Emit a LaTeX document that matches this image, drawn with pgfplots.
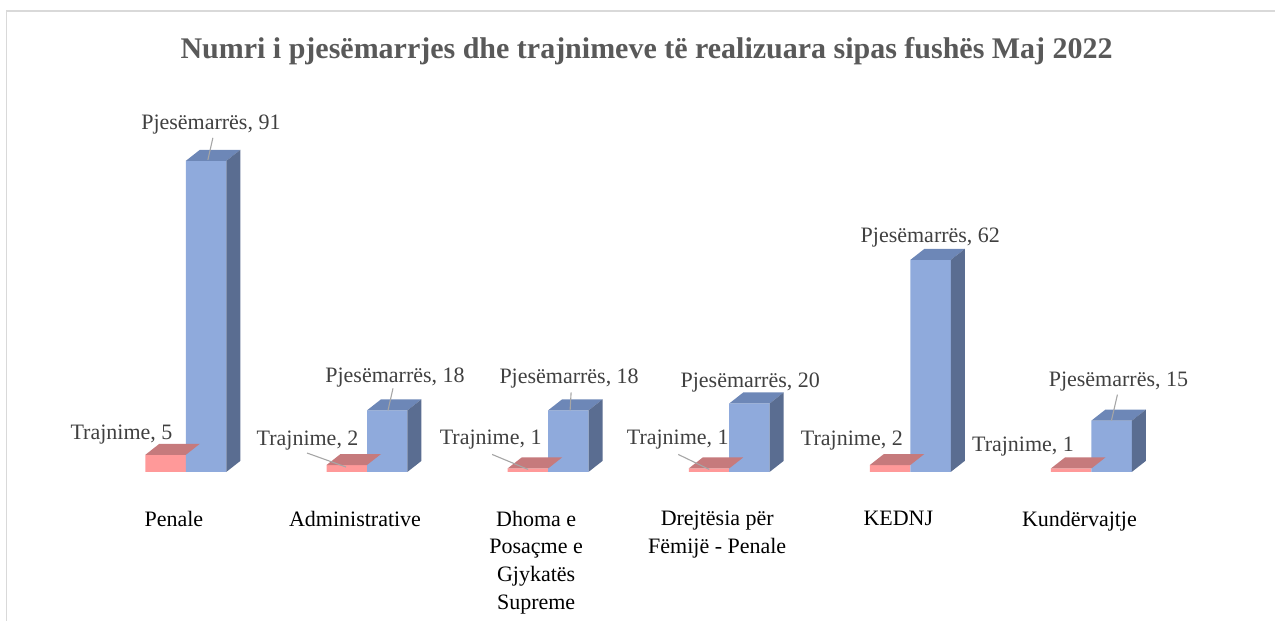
\documentclass[border=0pt]{standalone}
\usepackage{pgfplots}
\pgfplotsset{compat=1.18}
\usepackage{pgfplotstable}
\usepackage{fontspec}
\setmainfont{Liberation Serif}

\definecolor{bfront}{HTML}{8FAADC}
\definecolor{btop}{HTML}{6D87B7}
\definecolor{bside}{HTML}{5A6D91}
\definecolor{pfront}{HTML}{FF9999}
\definecolor{ptop}{HTML}{C67A7C}
\definecolor{leadgray}{HTML}{A6A6A6}
\definecolor{lbl}{HTML}{404040}
\definecolor{ttl}{HTML}{595959}
\definecolor{framegray}{HTML}{D9D9D9}

% geometry of the fake 3-D bars (1pt = 1px of the reference)
\def\yu{3.42}
\def\cubW{40.5pt}
\def\cubDX{14pt}
\def\cubDY{11pt}

% top + side face (+ leader line) of a blue bar, origin = front top-left corner
\pgfdeclareplotmark{cubeB}{%
  \pgfmathsetlengthmacro\cubH{\rawv*\yu pt}%
  \pgfsetfillcolor{btop}%
  \pgfpathmoveto{\pgfpoint{0pt}{0pt}}%
  \pgfpathlineto{\pgfpoint{\cubW}{0pt}}%
  \pgfpathlineto{\pgfpoint{\cubW+\cubDX}{\cubDY}}%
  \pgfpathlineto{\pgfpoint{\cubDX}{\cubDY}}%
  \pgfpathclose\pgfusepath{fill}%
  \pgfsetfillcolor{bside}%
  \pgfpathmoveto{\pgfpoint{\cubW}{0pt}}%
  \pgfpathlineto{\pgfpoint{\cubW+\cubDX}{\cubDY}}%
  \pgfpathlineto{\pgfpoint{\cubW+\cubDX}{\cubDY-\cubH}}%
  \pgfpathlineto{\pgfpoint{\cubW}{-\cubH}}%
  \pgfpathclose\pgfusepath{fill}%
  \pgfsetstrokecolor{leadgray}\pgfsetlinewidth{1.1pt}%
  \pgfpathmoveto{\pgfpoint{\lAx pt}{\lAy pt}}%
  \pgfpathlineto{\pgfpoint{\lBx pt}{\lBy pt}}%
  \pgfusepath{stroke}%
}
% top face (+ leader line) of a pink bar, origin = front top-right corner
\pgfdeclareplotmark{cubeP}{%
  \pgfsetfillcolor{ptop}%
  \pgfpathmoveto{\pgfpoint{-\cubW}{0pt}}%
  \pgfpathlineto{\pgfpoint{0pt}{0pt}}%
  \pgfpathlineto{\pgfpoint{\cubDX}{\cubDY}}%
  \pgfpathlineto{\pgfpoint{-\cubW+\cubDX}{\cubDY}}%
  \pgfpathclose\pgfusepath{fill}%
  \pgfsetstrokecolor{leadgray}\pgfsetlinewidth{1.1pt}%
  \pgfpathmoveto{\pgfpoint{\lAx pt}{\lAy pt}}%
  \pgfpathlineto{\pgfpoint{\lBx pt}{\lBy pt}}%
  \pgfusepath{stroke}%
}

% v = value, lx/ly = label offset, ax..by = leader line (0 = none)
\pgfplotstableread{
x v  lx  ly  ax  ay  bx  by
0 91 25  31  22  1   27  23
1 18 28  28  21  0   26  22
2 18 21  27  22  0   23  18
3 20 21  16  0   0   0   0
4 62 20  17  0   0   0   0
5 15 27  34  20  0   26  26
}\pjes
\pgfplotstableread{
x v lx  ly  ax  ay  bx  by
0 5 -13 15  0   0   0   0
1 2 -8  20  -21 -2  -60 12
2 1 -6  24  -20 -1  -56 14
3 1 0   24  -20 -1  -51 14
4 2 -7  20  0   0   0   0
5 1 -17 17  0   0   0   0
}\trajn

\begin{document}
\begin{tikzpicture}
\begin{axis}[
    x=181.2pt, y=3.42pt,
    xmin=-1.0265, xmax=6.0155,
    ymin=-43.567, ymax=138.012,
    clip=false,
    axis line style={draw=none},
    major tick length=0pt,
    ytick=\empty,
    /pgf/number format/assume math mode=true,
    xtick={0,...,5},
    xticklabels={Penale, Administrative, {Dhoma e\\Posaçme e\\Gjykatës\\Supreme},
                 {Drejtësia për\\Fëmijë - Penale}, KEDNJ, Kundërvajtje},
    xticklabel style={align=center, anchor=north, inner sep=0pt,
        font=\fontsize{22}{27.7}\selectfont, xshift=-12pt, yshift=110pt},
    title={Numri i pjesëmarrjes dhe trajnimeve të realizuara sipas fushës Maj 2022},
    title style={at={(0.507,0.8970)}, anchor=base, inner sep=0pt,
        font=\fontsize{30}{36}\selectfont\bfseries, text=ttl},
    visualization depends on={\thisrow{v}\as\rawv},
    visualization depends on={\thisrow{lx}\as\lx},
    visualization depends on={\thisrow{ly}\as\ly},
    visualization depends on={\thisrow{ax}\as\lAx},
    visualization depends on={\thisrow{ay}\as\lAy},
    visualization depends on={\thisrow{bx}\as\lBx},
    visualization depends on={\thisrow{by}\as\lBy},
]
\path (rel axis cs:0,0) rectangle (rel axis cs:1,1);
\draw[framegray, line width=1.3pt] (rel axis cs:0.0051,0) |- (rel axis cs:1,0.9823);

% Trajnime
\addplot[ybar, bar width=40.5pt, bar shift=-20.25pt, fill=pfront, draw=none]
    table[x=x, y=v] {\trajn};
\addplot[scatter, only marks, mark=cubeP,
    scatter/@pre marker code/.code={}, scatter/@post marker code/.code={},
    nodes near coords={Trajnime, \pgfmathprintnumber{\pgfplotspointmeta}},
    every node near coord/.append style={anchor=base east, inner sep=0pt,
        xshift=\lx pt, yshift=\ly pt, text=lbl,
        font=\fontsize{22}{26}\selectfont}]
    table[x=x, y=v] {\trajn};

% Pjesemarres
\addplot[ybar, bar width=40.5pt, bar shift=20.25pt, fill=bfront, draw=none]
    table[x=x, y=v] {\pjes};
\addplot[scatter, only marks, mark=cubeB,
    scatter/@pre marker code/.code={}, scatter/@post marker code/.code={},
    nodes near coords={Pjesëmarrës, \pgfmathprintnumber{\pgfplotspointmeta}},
    every node near coord/.append style={anchor=base, inner sep=0pt,
        xshift=\lx pt, yshift=\ly pt, text=lbl,
        font=\fontsize{22}{26}\selectfont}]
    table[x=x, y=v] {\pjes};
\end{axis}
\end{tikzpicture}
\end{document}
